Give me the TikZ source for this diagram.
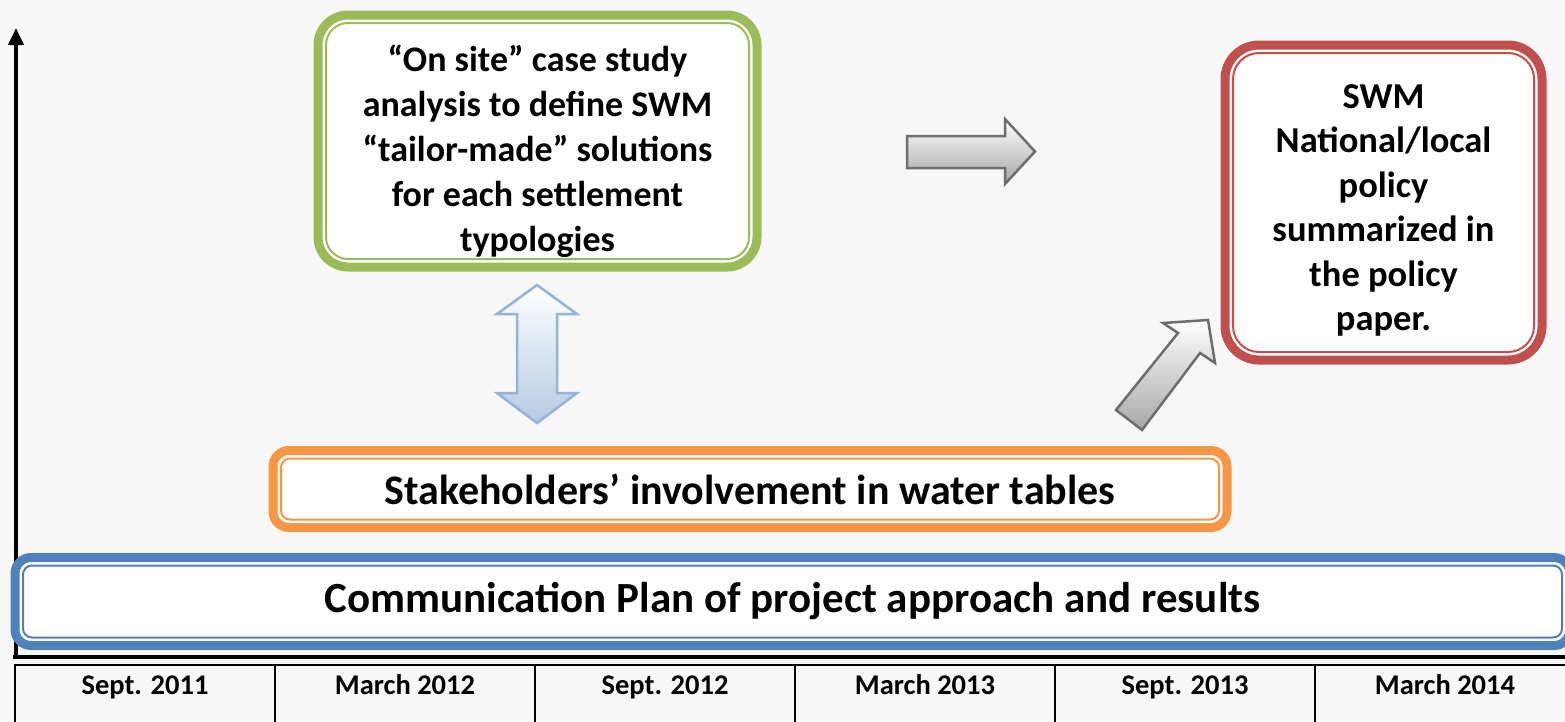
\documentclass[tikz,border=0pt]{standalone}
\usepackage{fontspec}
\setmainfont{Carlito}
\usetikzlibrary{arrows.meta}

\definecolor{swmgreen}{HTML}{9BBB59}
\definecolor{swmred}{HTML}{C0504D}
\definecolor{swmorange}{HTML}{F79646}
\definecolor{swmblue}{HTML}{4F81BD}
\definecolor{arrowblue}{HTML}{95B3D7}
\definecolor{arrowgray}{HTML}{6D6D6D}

\begin{document}
\begin{tikzpicture}[x=1pt,y=-1pt,>={Triangle[width=15pt,length=17pt]}]
  \tikzstyle{frame}=[rectangle,draw,fill=white,line width=9pt,outer sep=0pt,align=center,font=\bfseries]
  \tikzstyle{inner}=[line width=2pt]
  \tikzstyle{grayblock}=[draw=arrowgray,line width=2.5pt,line join=miter,top color=white,bottom color=black!35]
  \tikzstyle{blueblock}=[draw=arrowblue,line width=2.5pt,line join=miter,top color=white,bottom color=arrowblue!70]
  \tikzstyle{date}=[anchor=base,font=\fontsize{28.5}{32}\selectfont\bfseries]

  \clip (0,0) rectangle (1565,721);
  \fill[black!3] (0,0) rectangle (1565,721);

  % time axis
  \draw[line width=4pt] (13,657) -- (1565,657);
  \draw[line width=4pt,->] (16,659) -- (16,28);
  \draw[line width=2.5pt] (14,665) -- (1565,665);
  \foreach \x in {15,275,535,795,1055,1315}
    \draw[line width=2.5pt] (\x,665) -- (\x,725);
  \foreach \d [count=\i] in {Sept. 2011,March 2012,Sept. 2012,March 2013,Sept. 2013,March 2014}
    \node[date] (date\i) at (145+260*\i-260,694) {\d};

  % boxes
  \node[frame,draw=swmgreen,rounded corners=30,minimum width=439,minimum height=252,
        font=\fontsize{36}{45}\selectfont\bfseries] (case) at (537.5,141)
        {\rule{0pt}{47pt}“On site” case study\\ analysis to define SWM\\ “tailor-made” solutions\\ for each settlement\\ typologies};
  \draw[inner,swmgreen,rounded corners=22] ([shift={(8,8)}]case.north west) rectangle ([shift={(-8,-8)}]case.south east);

  \node[frame,draw=swmred,rounded corners=34,minimum width=317,minimum height=315,
        font=\fontsize{36.5}{44.5}\selectfont\bfseries] (policy) at (1383.5,202.5)
        {\rule{0pt}{40pt}SWM\\ National/local\\ policy\\ summarized in\\ the policy\\ paper.};
  \draw[inner,swmred,rounded corners=26] ([shift={(8,8)}]policy.north west) rectangle ([shift={(-8,-8)}]policy.south east);

  \node[frame,draw=swmorange,rounded corners=16,minimum width=954,minimum height=77,
        font=\fontsize{42}{48}\selectfont\bfseries] (water) at (750,489)
        {Stakeholders’ involvement in water tables};
  \draw[inner,swmorange,rounded corners=9] ([shift={(8,8)}]water.north west) rectangle ([shift={(-8,-8)}]water.south east);

  \node[frame,draw=swmblue,rounded corners=16,minimum width=1555,minimum height=88,
        font=\fontsize{43}{50}\selectfont\bfseries] (comm) at (792.5,601.5)
        {Communication Plan of project approach and results};
  \draw[inner,swmblue,rounded corners=9] ([shift={(8,8)}]comm.north west) rectangle ([shift={(-8,-8)}]comm.south east);

  % block arrows
  \draw[blueblock] (537,285) -- (577,314) -- (557,314) -- (557,393) -- (577,393) -- (537,423)
    -- (497,393) -- (517,393) -- (517,314) -- (497,314) -- cycle;
  \draw[grayblock] (907,136) -- (1005,136) -- (1005,119) -- (1035,151.5) -- (1005,184)
    -- (1005,168) -- (907,168) -- cycle;
  \draw[grayblock] (1116,410) -- (1178,333) -- (1163,323) -- (1208,320) -- (1215,363)
    -- (1200,353) -- (1142,430) -- cycle;
\end{tikzpicture}
\end{document}
